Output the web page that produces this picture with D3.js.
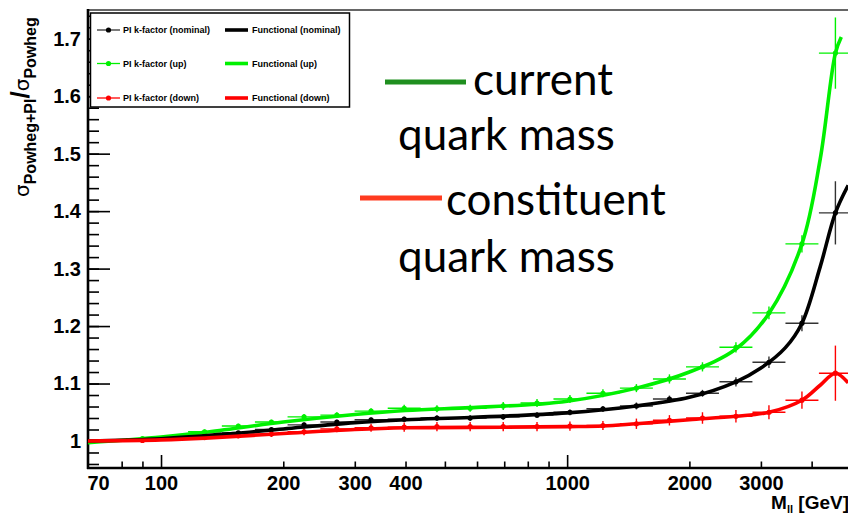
<!DOCTYPE html>
<html>
<head>
<meta charset="utf-8">
<script src="https://cdn.jsdelivr.net/npm/d3@7"></script>
<style>
body { margin: 0; background: #fff; }
svg { display: block; font-family: "Liberation Sans", Arial, sans-serif; }
.tick text { font-weight: bold; font-size: 20px; fill: #000; }
.tick line { stroke: #000; stroke-width: 1.6; }
</style>
</head>
<body>
<script>
var width = 848, height = 515;

// bin centres (GeV) of the PI k-factor points
var mass = [90, 128, 155, 187, 225, 271, 329, 397, 478, 577, 696, 843, 1016, 1225, 1481, 1786, 2154, 2604, 3140, 3786, 4577];
var kNominal = [1.002, 1.009, 1.014, 1.020, 1.028, 1.033, 1.037, 1.038, 1.040, 1.040, 1.042, 1.045, 1.050, 1.056, 1.061, 1.073, 1.083, 1.103, 1.137, 1.205, 1.397];
var kUp      = [1.004, 1.016, 1.026, 1.033, 1.042, 1.045, 1.052, 1.057, 1.056, 1.057, 1.061, 1.066, 1.073, 1.083, 1.092, 1.108, 1.129, 1.163, 1.223, 1.343, 1.675];
var kDown    = [1.001, 1.006, 1.009, 1.012, 1.016, 1.021, 1.023, 1.024, 1.025, 1.025, 1.025, 1.025, 1.026, 1.027, 1.030, 1.036, 1.040, 1.043, 1.050, 1.071, 1.118];
var errNominal = [0.003, 0.003, 0.003, 0.003, 0.004, 0.004, 0.004, 0.004, 0.005, 0.005, 0.005, 0.005, 0.005, 0.005, 0.006, 0.006, 0.006, 0.008, 0.010, 0.014, 0.055];
var errUp      = [0.003, 0.004, 0.004, 0.004, 0.005, 0.005, 0.005, 0.006, 0.006, 0.006, 0.007, 0.007, 0.007, 0.007, 0.007, 0.008, 0.008, 0.009, 0.011, 0.015, 0.062];
var errDown    = [0.003, 0.004, 0.004, 0.005, 0.006, 0.006, 0.007, 0.008, 0.008, 0.008, 0.008, 0.008, 0.008, 0.008, 0.009, 0.009, 0.010, 0.011, 0.012, 0.015, 0.048];
var binHalf = 1.098; // half bin width, as a mass ratio

// functional fits
var fitNominalM = [66.1, 100, 150, 200, 300, 400, 577, 1000, 1481, 2000, 2604, 3000, 3443, 3786, 4198, 4577, 4921];
var fitNominal  = [1.000, 1.004, 1.013, 1.021, 1.032, 1.037, 1.041, 1.049, 1.061, 1.076, 1.103, 1.127, 1.162, 1.205, 1.303, 1.397, 1.445];
var fitUpM = [66.1, 100, 128.3, 200, 300, 400, 577, 843, 1000, 1481, 2000, 2604, 3140, 3786, 4198, 4577, 4732];
var fitUp  = [0.997, 1.007, 1.015, 1.033, 1.046, 1.053, 1.058, 1.064, 1.069, 1.092, 1.120, 1.160, 1.222, 1.343, 1.490, 1.675, 1.703];
var fitDownM = [66.1, 100, 128.3, 200, 300, 400, 696, 1000, 1225, 1481, 2000, 2604, 3140, 3786, 4198, 4577, 4921];
var fitDown  = [1.000, 1.002, 1.005, 1.013, 1.020, 1.023, 1.024, 1.025, 1.026, 1.030, 1.037, 1.043, 1.050, 1.071, 1.097, 1.118, 1.101];

// axis ticks
var xLabels = [70, 100, 200, 300, 400, 1000, 2000, 3000];
var xMajor = [100, 1000];
var xMinor = [80, 90, 200, 300, 400, 500, 600, 700, 800, 900, 2000, 3000, 4000];
var yMajor = [1, 1.1, 1.2, 1.3, 1.4, 1.5, 1.6, 1.7];
var yMinor = d3.range(0.96, 1.75, 0.02);

var legendLabels = ["PI k-factor (nominal)", "PI k-factor (up)", "PI k-factor (down)"];
var fitLabels = ["Functional (nominal)", "Functional (up)", "Functional (down)"];
var colors = ["#000000", "#00f000", "#ff0000"];
var barColors = ["#333333", "#00f000", "#ff0000"];

var svg = d3.select("body").append("svg")
    .attr("width", width)
    .attr("height", height);

var defs = svg.append("defs");
defs.append("filter").attr("id", "blur")
    .append("feGaussianBlur").attr("stdDeviation", 1.5);

var x = d3.scaleLog().domain([66.1, 5000]).range([88, 851]);
var y = d3.scaleLinear().domain([0.953, 1.75]).range([468, 10]);

// y axis: minor then major ticks, pointing inward
svg.append("g").attr("transform", "translate(88,0)")
    .call(d3.axisLeft(y).tickValues(yMinor).tickSizeInner(-11).tickSizeOuter(0).tickFormat(""))
    .select(".domain").remove();
svg.append("g").attr("transform", "translate(88,0)")
    .call(d3.axisLeft(y).tickValues(yMajor).tickSizeInner(-22).tickSizeOuter(0).tickPadding(7)
        .tickFormat(function(d) { return d === 1 ? "1" : d3.format(".1f")(d); }))
    .select(".domain").remove();

// x axis
svg.append("g").attr("transform", "translate(0,468)")
    .call(d3.axisBottom(x).tickValues(xMinor).tickSizeInner(-6.5).tickSizeOuter(0).tickFormat(""))
    .select(".domain").remove();
svg.append("g").attr("transform", "translate(0,468)")
    .call(d3.axisBottom(x).tickValues(xMajor).tickSizeInner(-13).tickSizeOuter(0).tickFormat(""))
    .select(".domain").remove();
var xl = svg.append("g").attr("transform", "translate(0,468)")
    .call(d3.axisBottom(x).tickValues(xLabels).tickSize(0).tickPadding(8).tickFormat(d3.format("d")));
xl.select(".domain").remove();
xl.selectAll("line").remove();

// frame
svg.append("line").attr("x1", 88).attr("x2", 851).attr("y1", 10).attr("y2", 10)
    .style("stroke", "#333").style("stroke-width", 1.6);
svg.append("line").attr("x1", 88).attr("x2", 88).attr("y1", 9).attr("y2", 469)
    .style("stroke", "#000").style("stroke-width", 2.6);
svg.append("line").attr("x1", 87).attr("x2", 851).attr("y1", 468).attr("y2", 468)
    .style("stroke", "#000").style("stroke-width", 2.6);

// data points with error bars
var series = [
  {val: kNominal, err: errNominal},
  {val: kUp, err: errUp},
  {val: kDown, err: errDown}
];
var plot = svg.append("g");
series.forEach(function(s, si) {
  var g = plot.append("g");
  var pts = mass.map(function(m, i) { return {m: m, v: s.val[i], e: s.err[i]}; });
  g.selectAll("line.h").data(pts).enter().append("line")
      .attr("x1", function(d) { return x(d.m / binHalf); })
      .attr("x2", function(d) { return x(d.m * binHalf); })
      .attr("y1", function(d) { return y(d.v); })
      .attr("y2", function(d) { return y(d.v); })
      .style("stroke", barColors[si]).style("stroke-width", 1.4);
  g.selectAll("line.v").data(pts).enter().append("line")
      .attr("x1", function(d) { return x(d.m); })
      .attr("x2", function(d) { return x(d.m); })
      .attr("y1", function(d) { return y(d.v - d.e); })
      .attr("y2", function(d) { return y(d.v + d.e); })
      .style("stroke", barColors[si]).style("stroke-width", 1.4);
  g.selectAll("circle").data(pts).enter().append("circle")
      .attr("cx", function(d) { return x(d.m); })
      .attr("cy", function(d) { return y(d.v); })
      .attr("r", 2.6)
      .style("fill", colors[si]);
});

// functional curves
var line = d3.line()
    .x(function(d) { return x(d[0]); })
    .y(function(d) { return y(d[1]); })
    .curve(d3.curveCatmullRom.alpha(0.5));
[[fitUpM, fitUp, 1], [fitNominalM, fitNominal, 0], [fitDownM, fitDown, 2]].forEach(function(f) {
  plot.append("path")
      .attr("d", line(f[0].map(function(m, i) { return [m, f[1][i]]; })))
      .style("fill", "none")
      .style("stroke", colors[f[2]])
      .style("stroke-width", 3.6)
      .style("stroke-linejoin", "round");
});

// legend
var leg = svg.append("g");
leg.append("rect").attr("x", 90.5).attr("y", 13).attr("width", 259).attr("height", 94)
    .style("fill", "#fff").style("stroke", "#000").style("stroke-width", 1.5);
var rowsY = [30, 63.5, 98];
rowsY.forEach(function(ry, i) {
  leg.append("line").attr("x1", 97).attr("x2", 120).attr("y1", ry).attr("y2", ry)
      .style("stroke", barColors[i]).style("stroke-width", 1.3);
  leg.append("circle").attr("cx", 108.5).attr("cy", ry).attr("r", 2.6).style("fill", colors[i]);
  leg.append("text").attr("x", 123).attr("y", ry + 3.3).text(legendLabels[i])
      .style("font-size", "9px").style("font-weight", "bold");
  leg.append("line").attr("x1", 225).attr("x2", 248).attr("y1", ry).attr("y2", ry)
      .style("stroke", colors[i]).style("stroke-width", 3.6);
  leg.append("text").attr("x", 252).attr("y", ry + 3.3).text(fitLabels[i])
      .style("font-size", "9px").style("font-weight", "bold");
});

// axis titles
var yt = svg.append("text")
    .attr("transform", "translate(29,197) rotate(-90)")
    .attr("x", 0).attr("y", 0);
yt.append("tspan").text("σ").style("font-size", "20px").style("font-family", "DejaVu Sans");
yt.append("tspan").text("Powheg+PI").attr("dy", 7).style("font-size", "16px").style("font-weight", "bold");
yt.append("tspan").text("/").attr("dy", -7).style("font-size", "26px").style("font-weight", "bold");
yt.append("tspan").text("σ").style("font-size", "20px").style("font-family", "DejaVu Sans");
yt.append("tspan").text("Powheg").attr("dy", 7).style("font-size", "16px").style("font-weight", "bold");

var xt = svg.append("text").attr("x", 849).attr("y", 509).attr("text-anchor", "end")
    .style("font-weight", "bold");
xt.append("tspan").text("M").style("font-size", "19px");
xt.append("tspan").text("ll").attr("dy", 4).style("font-size", "11px");
xt.append("tspan").text(" [GeV]").attr("dy", -4).style("font-size", "19px");

// annotation
var note = svg.append("g").style("font-family", "Lato, 'Open Sans', sans-serif").style("font-size", "44px");
[[385, 466, 82, "#1f8f1f"], [360, 442, 198, "#ff3b1f"]].forEach(function(l) {
  note.append("line").attr("x1", l[0] + 1).attr("x2", l[1] + 1).attr("y1", l[2] + 3).attr("y2", l[2] + 3)
      .style("stroke", "#888").style("stroke-width", 5).style("opacity", 0.6).attr("filter", "url(#blur)");
  note.append("line").attr("x1", l[0]).attr("x2", l[1]).attr("y1", l[2]).attr("y2", l[2])
      .style("stroke", l[3]).style("stroke-width", 5);
});
note.append("text").attr("x", 473).attr("y", 95).text("current");
note.append("text").attr("x", 398).attr("y", 150).text("quark mass");
note.append("text").attr("x", 446).attr("y", 215).text("constituent");
note.append("text").attr("x", 398).attr("y", 272).text("quark mass");
</script>
</body>
</html>
